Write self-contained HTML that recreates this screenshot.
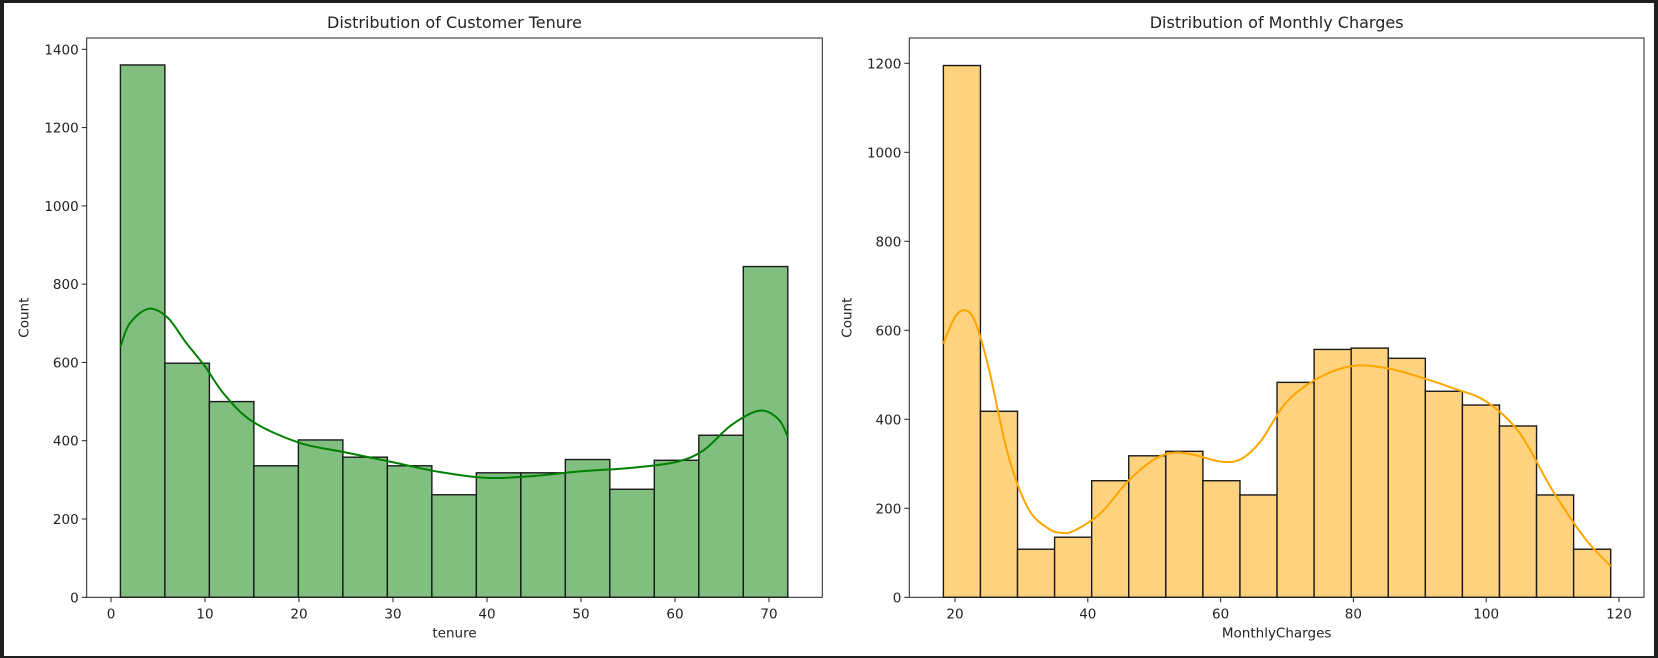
<!DOCTYPE html>
<html><head><meta charset="utf-8">
<style>
html,body{margin:0;padding:0;background:#1e1e1e;}
svg{display:block;font-family:"DejaVu Sans","Liberation Sans",sans-serif;}
</style></head>
<body>
<svg id="c" width="1658" height="658" xmlns="http://www.w3.org/2000/svg">
<rect x="4" y="3" width="1650" height="653" fill="#ffffff"/>
</svg>
<script>
// Tenure histogram
const tenureBinStart = 1, tenureBinEnd = 72;
const tenureCounts = [1360, 598, 500, 336, 402, 358, 336, 262, 318, 318, 352, 276, 350, 414, 845];
const tenureKdeX = [1,2,4,6,8,10,12,15,20,25,30,35,40,45,50,55,60,63,66,69,71,72];
const tenureKdeY = [640,700,737,715,650,590,520,450,395,370,345,320,305,310,322,330,345,375,440,477,455,410];
const tenureXTicks = [0,10,20,30,40,50,60,70];
const tenureYTicks = [0,200,400,600,800,1000,1200,1400];
// Monthly charges histogram
const chargesBinStart = 18.25, chargesBinEnd = 118.75;
const chargesCounts = [1195, 418, 108, 135, 262, 318, 328, 262, 230, 483, 557, 560, 537, 463, 432, 385, 230, 108];
const chargesKdeX = [18.25,20,21.5,23,25,28,31,34,36,38,42,46,50,53,56,60,63,66,70,75,80,85,90,95,100,105,110,115,118.75];
const chargesKdeY = [570,630,645,620,520,320,200,155,145,150,190,260,310,325,320,305,310,350,440,495,520,515,495,470,440,370,240,130,70];
const chargesXTicks = [20,40,60,80,100,120];
const chargesYTicks = [0,200,400,600,800,1000,1200];

const NS = "http://www.w3.org/2000/svg";
const svg = document.getElementById('c');
function mk(tag, attrs, parent){
  const e = document.createElementNS(NS, tag);
  for (const k in attrs) e.setAttribute(k, attrs[k]);
  (parent||svg).appendChild(e);
  return e;
}
function smoothPath(pts){
  let d = "M" + pts[0][0] + "," + pts[0][1];
  for (let i=0;i<pts.length-1;i++){
    const p0=pts[Math.max(0,i-1)], p1=pts[i], p2=pts[i+1], p3=pts[Math.min(pts.length-1,i+2)];
    const c1=[p1[0]+(p2[0]-p0[0])/6, p1[1]+(p2[1]-p0[1])/6];
    const c2=[p2[0]-(p3[0]-p1[0])/6, p2[1]-(p3[1]-p1[1])/6];
    d += " C"+c1[0]+","+c1[1]+" "+c2[0]+","+c2[1]+" "+p2[0]+","+p2[1];
  }
  return d;
}
function panel(cfg){
  const g = mk('g', {});
  
  
  const sx = v => cfg.px0 + (v - cfg.vx0) * cfg.kx;
  const sy = v => cfg.bottom - v * cfg.ky;
  const n = cfg.counts.length, w = (cfg.end - cfg.start)/n;
  cfg.counts.forEach((c,i)=>{
    const x0 = sx(cfg.start + i*w), x1 = sx(cfg.start + (i+1)*w);
    const r = mk('rect', {x:x0, y:sy(c), width:x1-x0, height:cfg.bottom-sy(c), fill:cfg.fill, stroke:'#1a1a1a', 'stroke-width':1.4}, g);
    
    
  });
  const pts = cfg.kx_.map((v,i)=>[sx(v), sy(cfg.ky_[i])]);
  const p = mk('path', {d:smoothPath(pts), fill:'none', stroke:cfg.line, 'stroke-width':2}, g);
  
  
  const fr = mk('rect', {x:cfg.left, y:cfg.top, width:cfg.right-cfg.left, height:cfg.bottom-cfg.top, fill:'none', stroke:'#222', 'stroke-width':1}, g);
  
  
  cfg.xt.forEach(t=>{
    const x = sx(t);
    mk('line', {x1:x, x2:x, y1:cfg.bottom, y2:cfg.bottom+5, stroke:'#222'}, g);
    const tx = mk('text', {x:x, y:cfg.bottom+21, 'text-anchor':'middle', 'font-size':13.5, fill:'#222'}, g);
    tx.textContent = t;
    
    
  });
  cfg.yt.forEach(t=>{
    const y = sy(t);
    mk('line', {x1:cfg.left-5, x2:cfg.left, y1:y, y2:y, stroke:'#222'}, g);
    const tx = mk('text', {x:cfg.left-8, y:y+5, 'text-anchor':'end', 'font-size':13.5, fill:'#222'}, g);
    tx.textContent = t;
    
    
  });
  const ti = mk('text', {x:(cfg.left+cfg.right)/2, y:28, 'text-anchor':'middle', 'font-size':16, fill:'#222'}, g);
  ti.textContent = cfg.title;
  
  
  const xl = mk('text', {x:(cfg.left+cfg.right)/2, y:cfg.bottom+40, 'text-anchor':'middle', 'font-size':13.5, fill:'#222'}, g);
  xl.textContent = cfg.xlabel;
  
  
  const yx = cfg.left-58, yy=(cfg.top+cfg.bottom)/2;
  const yl = mk('text', {x:yx, y:yy, 'text-anchor':'middle', 'font-size':13.5, fill:'#222', transform:'rotate(-90 '+yx+' '+yy+')'}, g);
  yl.textContent = 'Count';
  
  
}
panel({name:'tenure-panel', left:86.7, right:822.3, top:38, bottom:597.3, px0:111, vx0:0, kx:9.4, ky:(597.3-49.3)/1400,
  start:tenureBinStart, end:tenureBinEnd, counts:tenureCounts, kx_:tenureKdeX, ky_:tenureKdeY,
  xt:tenureXTicks, yt:tenureYTicks, fill:'#80bf80', line:'#008000', title:'Distribution of Customer Tenure', xlabel:'tenure'});
panel({name:'charges-panel', left:909.3, right:1644, top:38, bottom:597.3, px0:955, vx0:20, kx:6.64, ky:(597.3-63.3)/1200,
  start:chargesBinStart, end:chargesBinEnd, counts:chargesCounts, kx_:chargesKdeX, ky_:chargesKdeY,
  xt:chargesXTicks, yt:chargesYTicks, fill:'#ffd280', line:'#ffa500', title:'Distribution of Monthly Charges', xlabel:'MonthlyCharges'});
</script>
</body></html>
